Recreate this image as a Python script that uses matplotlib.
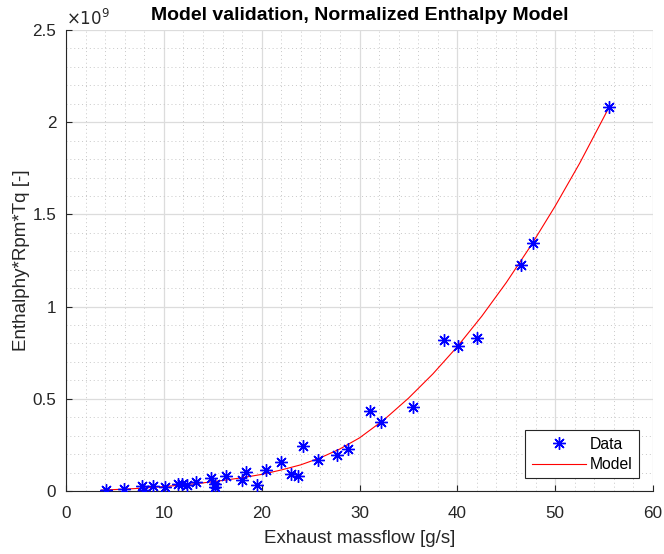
import matplotlib
matplotlib.use("Agg")
import matplotlib.pyplot as plt
from matplotlib.ticker import MultipleLocator, FuncFormatter

plt.rcParams['font.family'] = ['Liberation Sans', 'DejaVu Sans']

SCALE = 1e9

# Measured data (x: g/s, y: in units of 1e9)
data_x = [4.08, 5.92, 7.72, 7.96, 8.85, 10.10, 11.43, 11.81, 12.35, 13.27,
          14.86, 15.20, 15.20, 16.40, 18.03, 18.37, 19.52, 20.48, 21.94, 23.00,
          23.70, 24.26, 25.74, 27.68, 28.85, 31.09, 32.21, 35.51, 38.60, 40.03,
          42.01, 46.50, 47.76, 55.50]
data_y = [0.005, 0.011, 0.029, 0.007, 0.029, 0.023, 0.038, 0.038, 0.033, 0.050,
          0.069, 0.038, 0.020, 0.080, 0.061, 0.105, 0.033, 0.112, 0.159, 0.092,
          0.081, 0.246, 0.170, 0.196, 0.228, 0.435, 0.373, 0.454, 0.821, 0.785,
          0.830, 1.226, 1.345, 2.081]

# Model curve
model_x = [3.64, 6.0, 8.0, 10.0, 12.0, 14.0, 16.0, 18.0, 20.0, 22.0, 24.0,
           26.0, 28.0, 30.0, 32.5, 35.0, 37.5, 40.0, 42.5, 45.0, 47.5,
           50.0, 52.5, 55.51]
model_y = [0.005, 0.010, 0.016, 0.024, 0.033, 0.044, 0.057, 0.072, 0.090,
           0.114, 0.142, 0.180, 0.228, 0.288, 0.386, 0.503, 0.635, 0.783,
           0.948, 1.130, 1.329, 1.545, 1.777, 2.081]

xticks = [0, 10, 20, 30, 40, 50, 60]
yticks = [0, 0.5, 1, 1.5, 2, 2.5]

fig = plt.figure(figsize=(6.64, 5.54), dpi=100)
ax = fig.add_axes([66/664, (554-491)/554, (653-66)/664, (491-30)/554])

ax.plot(model_x, [v*SCALE for v in model_y], color=(1, 0, 0), lw=0.8,
        label='Model', zorder=3)
ax.plot(data_x, [v*SCALE for v in data_y], ls='none', marker=(8, 2, 0),
        markersize=9, markeredgewidth=1.0, color=(0, 0, 1), label='Data', zorder=4)

ax.set_xlim(xticks[0], xticks[-1])
ax.set_ylim(yticks[0]*SCALE, yticks[-1]*SCALE)
ax.set_xticks(xticks)
ax.set_yticks([v*SCALE for v in yticks])
ax.yaxis.set_major_formatter(FuncFormatter(lambda v, p: '%g' % (v/SCALE)))
ax.xaxis.set_minor_locator(MultipleLocator(2))
ax.yaxis.set_minor_locator(MultipleLocator(0.1*SCALE))

ax.grid(which='major', color='#dcdcdc', lw=0.9, ls='-')
ax.grid(which='minor', color='#c8c8c8', lw=0.7, ls=(0, (1, 3)))
ax.set_axisbelow(True)

for s in ['top', 'right']:
    ax.spines[s].set_visible(False)
for s in ['left', 'bottom']:
    ax.spines[s].set_color('#262626')
    ax.spines[s].set_linewidth(0.8)

ax.tick_params(which='major', direction='in', length=4, width=0.8,
               colors='#262626', labelsize=12.3, labelcolor='#262626')
ax.tick_params(which='minor', length=0)
ax.tick_params(axis='x', pad=11)
ax.tick_params(axis='y', pad=7)

ax.text(0.0, 1.005, r'$\times10^{9}$', transform=ax.transAxes, fontsize=12,
        color='#262626', ha='left', va='bottom')

ax.set_title('Model validation, Normalized Enthalpy Model', fontsize=14,
             fontweight='bold', color='black', pad=7)
ax.set_xlabel('Exhaust massflow [g/s]', fontsize=13.5, color='#262626', labelpad=6)
ax.set_ylabel('Enthalphy*Rpm*Tq [-]', fontsize=13.5, color='#262626', labelpad=2)

h, l = ax.get_legend_handles_labels()
leg = ax.legend([h[1], h[0]], [l[1], l[0]], loc='lower right',
                bbox_to_anchor=(638.7/664, (554-478.3)/554),
                bbox_transform=fig.transFigure, fontsize=11.3, fancybox=False,
                framealpha=1, edgecolor='#262626', handlelength=3.44,
                borderpad=0.4, labelspacing=0.35, handletextpad=0.25,
                borderaxespad=0)
leg.get_frame().set_linewidth(0.8)

fig.savefig('out.png', dpi=100, facecolor='white')
